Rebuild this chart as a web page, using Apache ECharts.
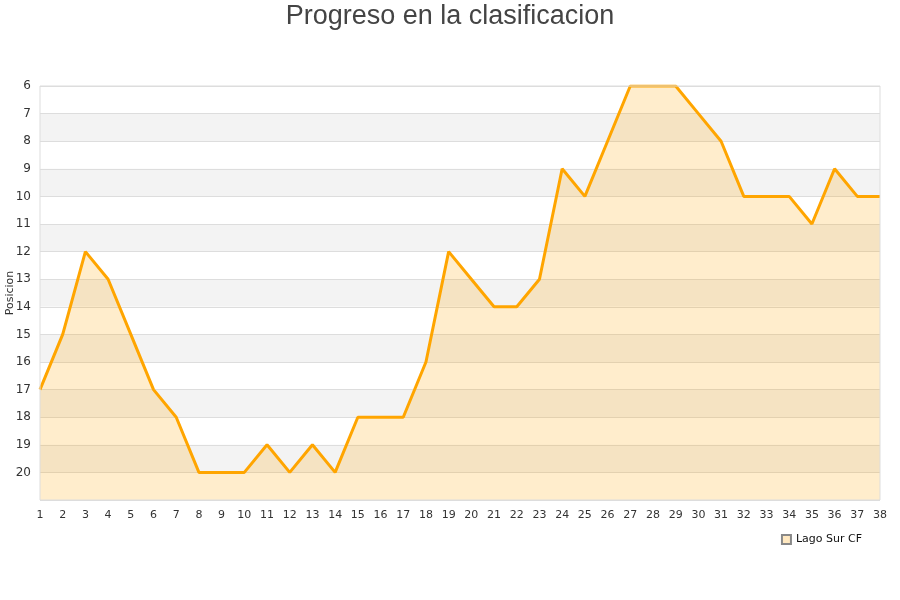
<!DOCTYPE html>
<html>
<head>
<meta charset="utf-8">
<script src="https://cdn.jsdelivr.net/npm/echarts@6/dist/echarts.min.js"></script>
<style>html,body{margin:0;padding:0;background:#fff}#c{width:900px;height:600px}</style>
</head>
<body>
<div id="c"></div>
<script>
const jornadas = ['1','2','3','4','5','6','7','8','9','10','11','12','13','14','15','16','17','18','19','20','21','22','23','24','25','26','27','28','29','30','31','32','33','34','35','36','37','38'];
const posiciones = [17,15,12,13,15,17,18,20,20,20,19,20,19,20,18,18,18,16,12,13,14,14,13,9,10,8,6,6,6,7,8,10,10,10,11,9,10,10];
const seriesName = 'Lago Sur CF';
const titleText = 'Progreso en la clasificacion';
const yName = 'Posicion';

const chart = echarts.init(document.getElementById('c'));
chart.setOption({
  animation: false,
  title: {
    text: titleText, left: 'center', top: -2,
    textStyle: { fontFamily: 'Liberation Sans', fontSize: 27, fontWeight: 'normal', color: '#444' }
  },
  legend: {
    data: [seriesName], right: 33, top: 529, itemWidth: 9, itemHeight: 9, icon: 'rect',
    textStyle: { fontFamily: 'DejaVu Sans', fontSize: 11, color: '#111' }
  },
  grid: { left: 40, right: 20, top: 86, bottom: 100, containLabel: false, outerBoundsMode: 'none' },
  xAxis: {
    type: 'category', data: jornadas, boundaryGap: false,
    axisLine: { show: false }, axisTick: { show: false },
    axisLabel: { fontFamily: 'DejaVu Sans', fontSize: 11, color: '#333', margin: 10, interval: 0 },
    splitLine: { show: false }
  },
  yAxis: {
    type: 'value', inverse: true, min: 6, max: 21, interval: 1,
    name: yName, nameLocation: 'middle', nameGap: 24, nameRotate: 90, nameMoveOverlap: false,
    nameTextStyle: { fontFamily: 'DejaVu Sans', fontSize: 11, color: '#333' },
    axisLine: { show: false }, axisTick: { show: false },
    axisLabel: { fontFamily: 'DejaVu Sans', fontSize: 12, color: '#333', margin: 9,
      formatter: v => (v >= 21 ? '' : String(v)) },
    splitLine: { show: true, lineStyle: { color: '#ddd' } },
    splitArea: { show: true, areaStyle: { color: ['#ffffff', '#f3f3f3'] } }
  },
  series: [{
    name: seriesName, type: 'line', data: posiciones, symbol: 'none',
    lineStyle: { color: '#ffa500', width: 3 },
    itemStyle: { color: '#ffe8c0', borderColor: '#888', borderWidth: 1 },
    areaStyle: { color: '#ffa500', opacity: 0.2, origin: 'end' }
  }],
  graphic: [{
    type: 'rect', shape: { x: 40, y: 86, width: 840, height: 414 },
    style: { fill: 'none', stroke: '#ddd', lineWidth: 1 }, z: 10, silent: true
  }]
});
</script>
</body>
</html>
